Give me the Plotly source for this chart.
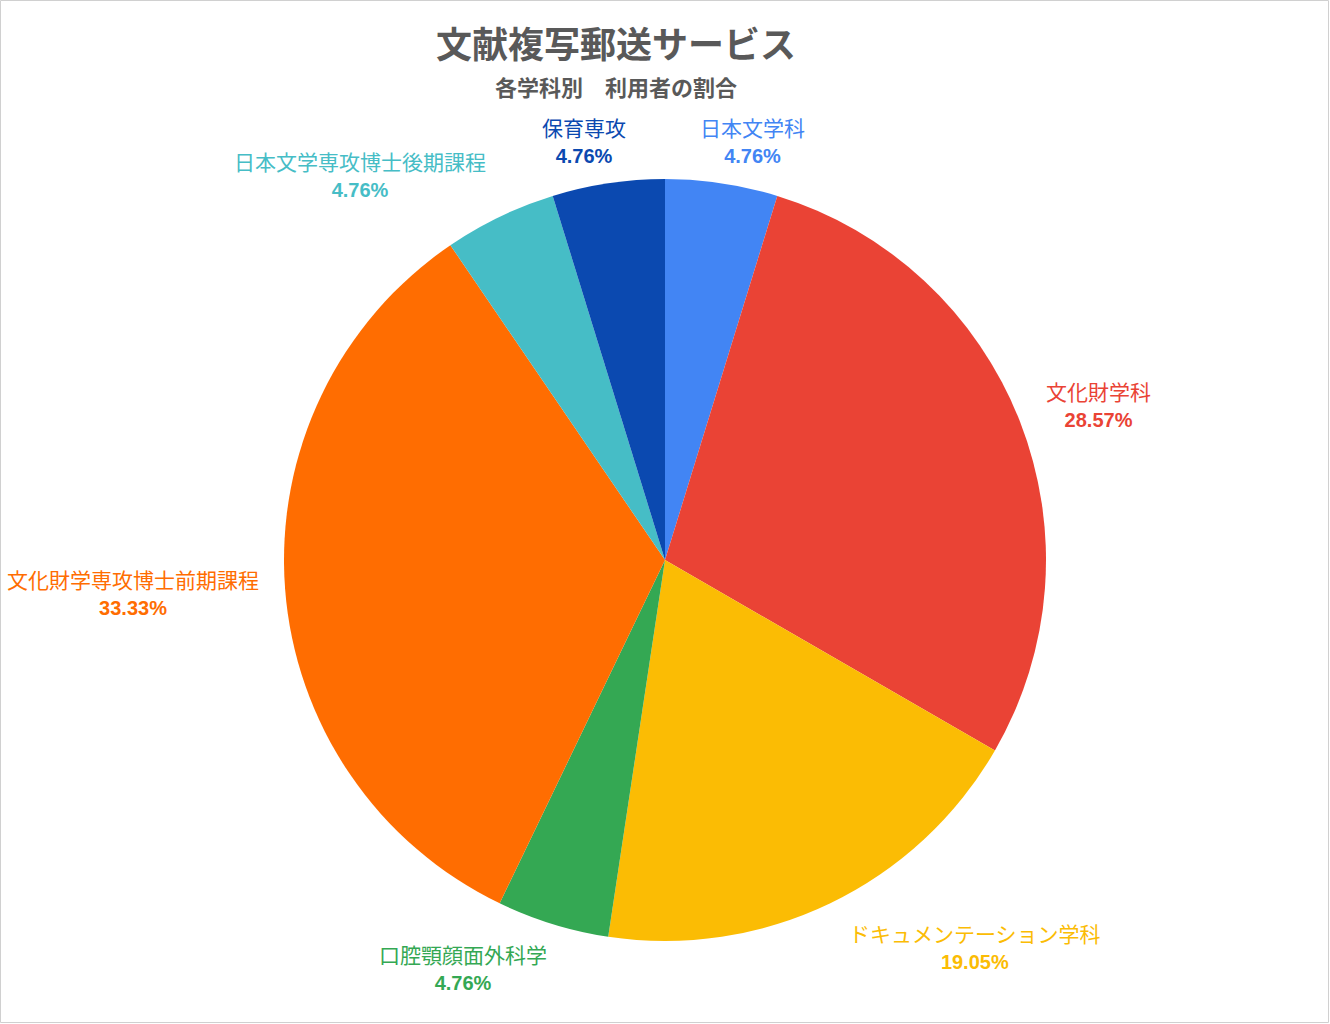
import plotly.graph_objects as go

# ---- data ----
categories = ["日本文学科", "文化財学科", "ドキュメンテーション学科", "口腔顎顔面外科学",
              "文化財学専攻博士前期課程", "日本文学専攻博士後期課程", "保育専攻"]
counts = [1, 6, 4, 1, 7, 1, 1]
colors = ["#4285F4", "#EA4335", "#FBBC04", "#34A853", "#FF6D01", "#46BDC6", "#0B49B0"]

title_text = "文献複写郵送サービス"
subtitle_text = "各学科別　利用者の割合"

# label anchor positions (pixels, centre of two-line block)
label_px = [(752, 139), (1098, 403), (975, 945), (463, 966), (133, 591), (360, 173), (584, 139)]

W, H = 1330, 1024
cx, cy, r = 665, 560, 381

fig = go.Figure()
fig.add_trace(go.Pie(
    labels=categories, values=counts, sort=False, direction="clockwise", rotation=0,
    marker=dict(colors=colors, line=dict(width=0)),
    textinfo="none", hoverinfo="label+percent", showlegend=False,
    domain=dict(x=[(cx - r) / W, (cx + r) / W], y=[(H - cy - r) / H, (H - cy + r) / H]),
))

total = sum(counts)
annotations = []
for name, v, col, (px, py) in zip(categories, counts, colors, label_px):
    pct = f"{v / total * 100:.2f}%"
    annotations.append(dict(
        x=px / W, y=1 - py / H, xref="paper", yref="paper", xanchor="center", yanchor="middle",
        showarrow=False, align="center",
        text=f"{name}<br><span style='font-family:Liberation Sans, Arial;font-size:20px'><b>{pct}</b></span>",
        font=dict(family="Noto Sans CJK JP", size=21, color=col),
    ))

annotations.append(dict(
    x=616 / W, y=1 - 42 / H, xref="paper", yref="paper", xanchor="center", yanchor="middle",
    showarrow=False, text=f"<b>{title_text}</b>",
    font=dict(family="Noto Sans CJK JP", size=36, color="#595959"),
))
annotations.append(dict(
    x=616 / W, y=1 - 86 / H, xref="paper", yref="paper", xanchor="center", yanchor="middle",
    showarrow=False, text=f"<b>{subtitle_text}</b>",
    font=dict(family="Noto Sans CJK JP", size=22, color="#595959"),
))

fig.update_layout(
    width=W, height=H, margin=dict(l=0, r=0, t=0, b=0),
    paper_bgcolor="white", plot_bgcolor="white",
    annotations=annotations,
    shapes=[dict(type="rect", xref="paper", yref="paper", x0=0.5 / W, x1=1 - 1.5 / W,
                 y0=1.5 / H, y1=1 - 0.5 / H, line=dict(color="#D0D0D0", width=1))],
)

fig.write_html("out.html")
